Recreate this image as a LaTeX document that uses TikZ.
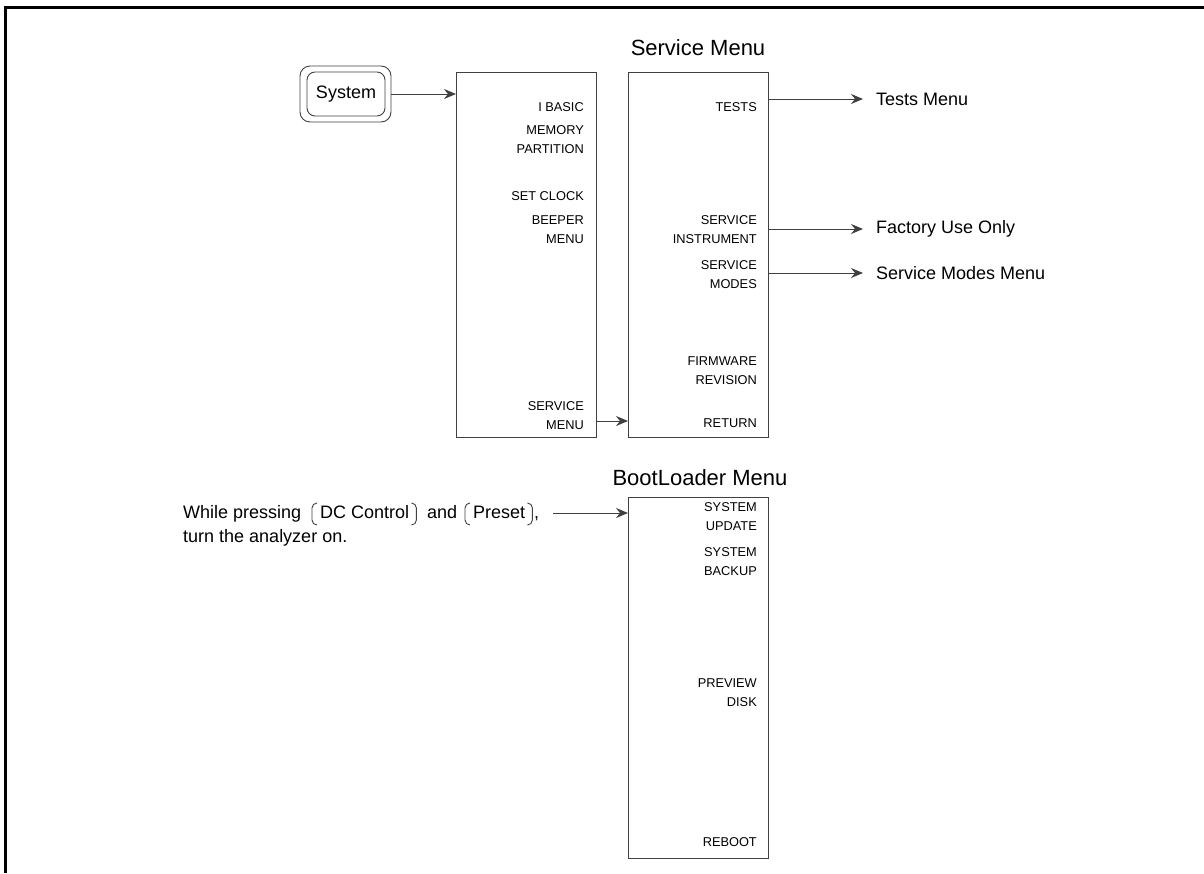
\documentclass[tikz,border=0pt]{standalone}
\usepackage{fontspec}
\setmainfont{Liberation Sans}
\usetikzlibrary{arrows.meta}
\begin{document}
\begin{tikzpicture}[x=1pt,y=-1pt,
  ln/.style={line width=0.9pt, draw=black!75},
  arr/.style={ln, -{Stealth[length=12pt,width=10pt,inset=4pt]}},
  menubox/.style={ln, draw, inner sep=0pt, anchor=north west},
  lbl/.style={anchor=east, align=right, inner sep=0pt, font=\fontsize{12.8}{19}\selectfont},
  ttl/.style={inner sep=0pt, font=\fontsize{22}{26}\selectfont},
  dest/.style={anchor=west, inner sep=0pt, font=\fontsize{18}{22}\selectfont},
  txt/.style={inner sep=0pt, anchor=base west, font=\fontsize{18}{24}\selectfont}]
\useasboundingbox (0,0) rectangle (1204,873);
% frame
\draw[line width=3pt] (5,873) -- (5,7) -- (1204,7);

% System key
\node[ln, draw, rounded corners=10pt, minimum width=91pt, minimum height=56pt, inner sep=0pt] (sysout) at (345.5,94) {};
\node[ln, draw, rounded corners=8pt, minimum width=78pt, minimum height=44pt, inner sep=0pt, font=\fontsize{18}{22}\selectfont] (sys) at (346,94) {System};

% menu boxes
\node[menubox, minimum width=140pt, minimum height=365pt] (lbox) at (456,72) {};
\node[menubox, minimum width=140pt, minimum height=365pt] (rbox) at (628,72) {};
\node[menubox, minimum width=140pt, minimum height=361pt] (bbox) at (628,497) {};

% titles
\node[ttl] (svcttl) at (698,48) {Service Menu};
\node[ttl] (bootttl) at (700,478) {BootLoader Menu};

% left box labels
\node[lbl] (ibasic) at (584,107) {I BASIC};
\node[lbl] (mem) at (584,140) {MEMORY\\PARTITION};
\node[lbl] (clock) at (584,196) {SET CLOCK};
\node[lbl] (beep) at (584,230) {BEEPER\\MENU};
\node[lbl] (svcmenu) at (584,416) {SERVICE\\MENU};

% right box labels
\node[lbl] (tests) at (757,107) {TESTS};
\node[lbl] (svcinst) at (757,230) {SERVICE\\INSTRUMENT};
\node[lbl] (svcmodes) at (757,275) {SERVICE\\MODES};
\node[lbl] (fw) at (757,371) {FIRMWARE\\REVISION};
\node[lbl] (ret) at (757,423) {RETURN};

% bootloader labels
\node[lbl] (supd) at (757,517) {SYSTEM\\UPDATE};
\node[lbl] (sbak) at (757,562) {SYSTEM\\BACKUP};
\node[lbl] (prev) at (757,693) {PREVIEW\\DISK};
\node[lbl] (reboot) at (757,842) {REBOOT};

% destinations
\node[dest] (testsmenu) at (876,99) {Tests Menu};
\node[dest] (factory) at (876,229) {Factory Use Only};
\node[dest] (modesmenu) at (876,273) {Service Modes Menu};

% connectors
\draw[arr] (sysout.east) -- (sysout.east -| lbox.west);
\draw[arr] (rbox.east |- testsmenu.west) -- ([xshift=-13pt]testsmenu.west);
\draw[arr] (rbox.east |- factory.west) -- ([xshift=-13pt]factory.west);
\draw[arr] (rbox.east |- modesmenu.west) -- ([xshift=-13pt]modesmenu.west);
\coordinate (smout) at (596,421);
\draw[arr] (smout) -- (smout -| rbox.west);

% bootloader instruction
\node[txt] (w1) at (183,518) {While pressing};
\node[txt] (dc) at (320,518) {DC Control};
\node[txt] (w2) at (427,518) {and};
\node[txt] (ps) at (473,518) {Preset};
\node[txt] (w3) at (534,518) {,};
\node[txt] (w4) at (183,542) {turn the analyzer on.};
\foreach \k in {dc,ps}{
  \draw[ln, rounded corners=5pt] ([xshift=-3pt,yshift=15pt]\k.base west) -- ([xshift=-8pt,yshift=15pt]\k.base west) -- ([xshift=-8pt,yshift=-7pt]\k.base west) -- ([xshift=-3pt,yshift=-7pt]\k.base west);
  \draw[ln, rounded corners=5pt] ([xshift=2pt,yshift=15pt]\k.base east) -- ([xshift=7pt,yshift=15pt]\k.base east) -- ([xshift=7pt,yshift=-7pt]\k.base east) -- ([xshift=2pt,yshift=-7pt]\k.base east);
}
\coordinate (bootin) at (553,513);
\draw[arr] (bootin) -- (bootin -| bbox.west);
\end{tikzpicture}
\end{document}
